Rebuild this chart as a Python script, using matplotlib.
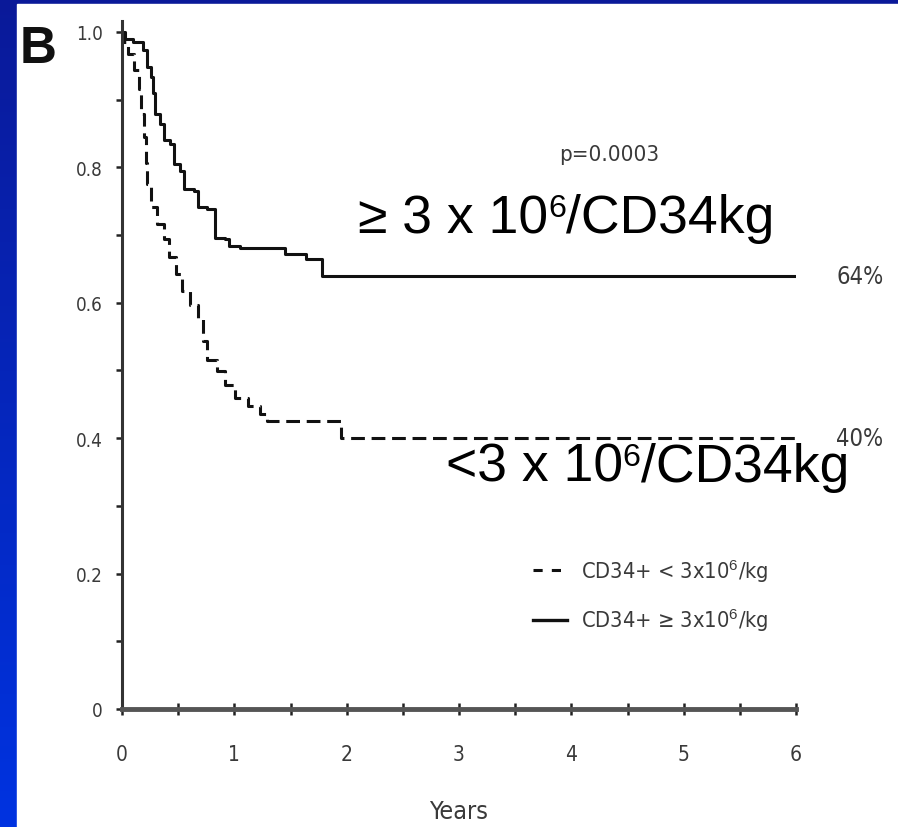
import numpy as np
import matplotlib.pyplot as plt
from matplotlib import font_manager
from matplotlib.font_manager import FontProperties
from matplotlib.lines import Line2D
from matplotlib.ticker import MultipleLocator, FixedLocator

plt.rcParams["font.family"] = ["Liberation Sans", "DejaVu Sans"]
plt.rcParams["mathtext.fontset"] = "custom"
plt.rcParams["mathtext.rm"] = "Liberation Sans"
plt.rcParams["mathtext.it"] = "Liberation Sans:italic"
plt.rcParams["mathtext.bf"] = "Liberation Sans:bold"

# Kaplan-Meier estimates, CD34+ >= 3x10^6/kg
high_t = [0, 0.03, 0.10, 0.19, 0.22, 0.26, 0.28, 0.29, 0.34, 0.37, 0.43, 0.46,
          0.52, 0.55, 0.64, 0.68, 0.76, 0.83, 0.92, 0.95, 1.05, 1.45, 1.64,
          1.78, 6.0]
high_s = [1.0, 0.99, 0.985, 0.973, 0.948, 0.933, 0.909, 0.879, 0.864, 0.84,
          0.835, 0.805, 0.795, 0.768, 0.765, 0.741, 0.738, 0.696, 0.694, 0.684,
          0.681, 0.672, 0.664, 0.64, 0.64]

# Kaplan-Meier estimates, CD34+ < 3x10^6/kg
low_t = [0, 0.01, 0.056, 0.107, 0.15, 0.167, 0.196, 0.21, 0.226, 0.255, 0.31,
         0.374, 0.42, 0.48, 0.537, 0.606, 0.68, 0.72, 0.755, 0.844, 0.918,
         1.007, 1.126, 1.23, 1.29, 1.95, 6.0]
low_s = [1.0, 0.985, 0.968, 0.944, 0.915, 0.879, 0.844, 0.807, 0.775, 0.741,
         0.716, 0.694, 0.667, 0.642, 0.618, 0.596, 0.578, 0.544, 0.515, 0.499,
         0.479, 0.46, 0.447, 0.436, 0.426, 0.40, 0.40]

legend_labels = ["CD34+ < 3x10$^{6}$/kg", "CD34+ \u2265 3x10$^{6}$/kg"]
x_ticks = [0, 1, 2, 3, 4, 5, 6]
x_tick_labels = ["0", "1", "2", "3", "4", "5", "6"]
y_ticks = [0, 0.2, 0.4, 0.6, 0.8, 1.0]
y_tick_labels = ["0", "0.2", "0.4", "0.6", "0.8", "1.0"]
p_text = "p=0.0003"
high_caption = ("\u2265 3 x 10", "6", "/CD34kg")
low_caption = ("<3 x 10", "6", "/CD34kg")


# narrow face for the small print, if one is installed
def find_narrow():
    for f in font_manager.fontManager.ttflist:
        if f.name == "Liberation Sans Narrow" and f.weight in (400, "normal", "regular") \
                and f.style == "normal":
            return f.fname
    for f in font_manager.fontManager.ttflist:
        if str(f.stretch) in ("condensed", "semi-condensed") and f.style == "normal" \
                and f.weight in (400, "normal", "regular") and "Serif" not in f.name \
                and "Mono" not in f.name:
            return f.fname
    return None


narrow_file = find_narrow()


def small(size):
    if narrow_file:
        return FontProperties(fname=narrow_file, size=size)
    return FontProperties(family="Liberation Sans", size=size * 0.88)


GRAY = "#3a3a3a"
W, H = 898, 828
fig = plt.figure(figsize=(W / 100, H / 100), dpi=100)

# slide background: blue frame with white panel
bg = fig.add_axes([0, 0, 1, 1], zorder=-5)
grad = np.linspace(0, 1, 256).reshape(-1, 1)
top_c = np.array([0.04, 0.10, 0.60])
bot_c = np.array([0.00, 0.20, 0.88])
img = top_c + (bot_c - top_c) * grad[..., None]
bg.imshow(img.reshape(256, 1, 3), aspect="auto", extent=[0, 1, 0, 1], origin="upper")
bg.add_patch(plt.Rectangle((17 / W, 0), 1, 1 - 5 / H, color="white"))
bg.set_xlim(0, 1)
bg.set_ylim(0, 1)
bg.axis("off")

ax = fig.add_axes([122 / W, (H - 710) / H, 674 / W, 688 / H])
ax.set_xlim(0, 6)
ax.set_ylim(0, 1.016)

ax.plot(high_t, high_s, drawstyle="steps-post", color="#111111", lw=2.2)
ax.plot(low_t, low_s, drawstyle="steps-post", color="#111111", lw=2.2,
        dashes=(4.5, 2.2))

for side in ["top", "right"]:
    ax.spines[side].set_visible(False)
ax.spines["left"].set_linewidth(2.2)
ax.spines["left"].set_color("#333333")
ax.spines["bottom"].set_linewidth(3.5)
ax.spines["bottom"].set_color("#555555")

ax.xaxis.set_major_locator(FixedLocator(x_ticks))
ax.xaxis.set_minor_locator(MultipleLocator(0.5))
ax.yaxis.set_major_locator(FixedLocator(y_ticks))
ax.yaxis.set_minor_locator(MultipleLocator(0.1))
ax.set_xticklabels(x_tick_labels, fontproperties=small(15), color=GRAY)
ax.set_yticklabels(y_tick_labels, fontproperties=small(13.5), color=GRAY)

ax.tick_params(axis="x", which="both", direction="inout", length=9, width=1.8,
               color="#222222", pad=21)
ax.tick_params(axis="y", which="both", direction="out", length=4, width=1.8,
               color="#222222", pad=10)

ax.set_xlabel("Years", fontproperties=small(18), color=GRAY, labelpad=25)

ax.text(4.34, 0.82, p_text, ha="center", va="center",
        fontproperties=small(16), color=GRAY)

# end-point survival annotations
ax.text(6.36, high_s[-1], f"{high_s[-1]:.0%}", ha="left", va="center",
        fontproperties=small(17), color=GRAY, clip_on=False)
ax.text(6.36, low_s[-1], f"{low_s[-1]:.0%}", ha="left", va="center",
        fontproperties=small(17), color=GRAY, clip_on=False)


# large group captions, superscript set as its own text
def caption(x, y, parts, size):
    base, sup, tail = parts
    t1 = ax.text(x, y, base, ha="left", va="baseline", fontsize=size, color="black")
    t2 = ax.annotate(sup, xy=(1, 1), xycoords=t1, ha="left", va="top",
                     fontsize=size * 0.6, color="black")
    ax.annotate(tail, xy=(1, 0), xycoords=(t2, t1), ha="left", va="bottom",
                fontsize=size, color="black")


caption(2.10, 0.704, high_caption, 38.5)
caption(2.88, 0.337, low_caption, 38.5)

handles = [Line2D([], [], color="#111111", lw=2.2, dashes=(3, 3)),
           Line2D([], [], color="#111111", lw=2.4)]
leg = ax.legend(handles, legend_labels, loc="upper left",
                bbox_to_anchor=(0.58, 0.25), frameon=False, handlelength=1.6,
                labelspacing=1.05, handletextpad=0.6, prop=small(15.7))
for t in leg.get_texts():
    t.set_color(GRAY)

fig.text(20 / W, 1 - 63 / H, "B", ha="left", va="baseline", fontsize=37,
         fontweight="bold", color="#111111")

fig.savefig("out.png", dpi=100)
